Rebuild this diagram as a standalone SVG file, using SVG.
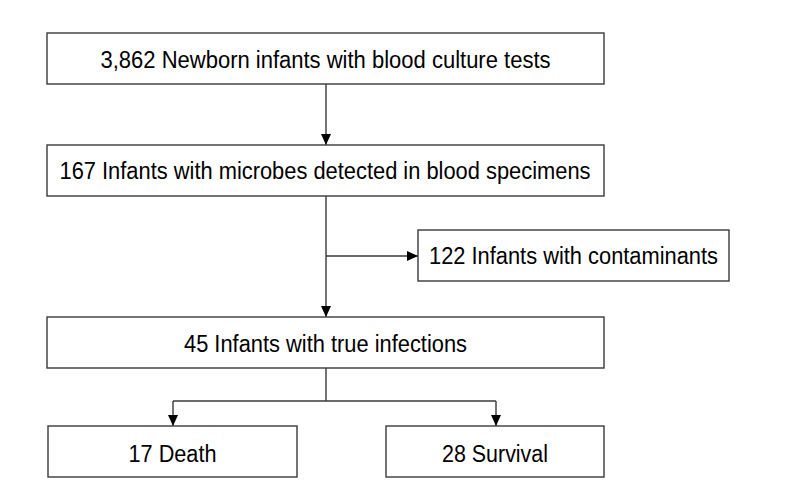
<svg xmlns="http://www.w3.org/2000/svg" width="787" height="487" viewBox="0 0 787 487">
<style>
.box{fill:#fff;stroke:#3a3a3a;stroke-width:1.4}
.lbl{font-family:"Liberation Sans",Arial,sans-serif;font-size:23.5px;fill:#000;text-anchor:middle}
.con{fill:none;stroke:#3a3a3a;stroke-width:1.4}
</style>
<defs>
<marker id="ah" markerWidth="12" markerHeight="12" refX="11" refY="6" orient="auto" markerUnits="userSpaceOnUse">
<path d="M0,1 L11,6 L0,11 Z" fill="#000"/>
</marker>
</defs>
<rect width="787" height="487" fill="#fff"/>
<g id="connectors">
<path class="con" d="M326,84 V145" marker-end="url(#ah)"/>
<path class="con" d="M326,196 V317" marker-end="url(#ah)"/>
<path class="con" d="M326,256 H418" marker-end="url(#ah)"/>
<path class="con" d="M326,368 V401"/>
<path class="con" d="M173,401 H496"/>
<path class="con" d="M173,401 V426" marker-end="url(#ah)"/>
<path class="con" d="M496,401 V426" marker-end="url(#ah)"/>
</g>
<g id="n1"><rect class="box" x="47" y="33" width="557" height="51"/><text class="lbl" x="325.5" y="67.5" textLength="450" lengthAdjust="spacingAndGlyphs">3,862 Newborn infants with blood culture tests</text></g>
<g id="n2"><rect class="box" x="47" y="145" width="557" height="51"/><text class="lbl" x="325" y="179" textLength="531" lengthAdjust="spacingAndGlyphs">167 Infants with microbes detected in blood specimens</text></g>
<g id="n3"><rect class="box" x="418" y="230" width="311" height="51"/><text class="lbl" x="573.5" y="264" textLength="289" lengthAdjust="spacingAndGlyphs">122 Infants with contaminants</text></g>
<g id="n4"><rect class="box" x="47" y="317" width="557" height="51"/><text class="lbl" x="325.5" y="351.5" textLength="283" lengthAdjust="spacingAndGlyphs">45 Infants with true infections</text></g>
<g id="n5"><rect class="box" x="48" y="426" width="249" height="51"/><text class="lbl" x="172.5" y="461.5" textLength="88" lengthAdjust="spacingAndGlyphs">17 Death</text></g>
<g id="n6"><rect class="box" x="386" y="426" width="218" height="51"/><text class="lbl" x="495" y="461.5" textLength="106" lengthAdjust="spacingAndGlyphs">28 Survival</text></g>
</svg>
